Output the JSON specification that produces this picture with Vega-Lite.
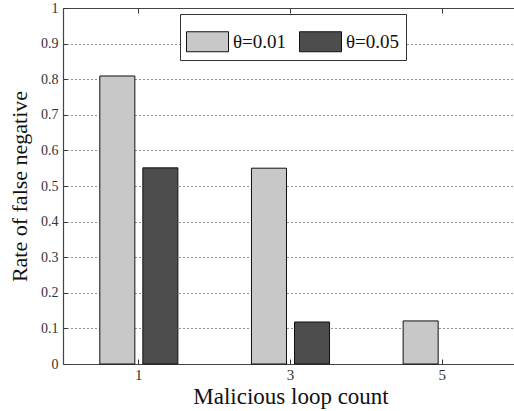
{
  "$schema": "https://vega.github.io/schema/vega-lite/v6.json",
  "width": 455,
  "height": 356,
  "autosize": {"type": "none"},
  "padding": {"left": 63, "top": 8, "right": 0, "bottom": 47},
  "background": "white",
  "config": {
    "view": {"stroke": null},
    "font": "Liberation Serif",
    "axis": {"labelFont": "Liberation Serif", "titleFont": "Liberation Serif", "labelColor": "#333333", "titleColor": "#111111", "titleFontWeight": "normal", "domainColor": "#444444", "domainWidth": 1.2}
  },
  "data": {
    "values": [
      {"count": "1", "theta": "θ=0.01", "rate": 0.809},
      {"count": "1", "theta": "θ=0.05", "rate": 0.551},
      {"count": "3", "theta": "θ=0.01", "rate": 0.55},
      {"count": "3", "theta": "θ=0.05", "rate": 0.118},
      {"count": "5", "theta": "θ=0.01", "rate": 0.121}
    ]
  },
  "layer": [
    {
      "mark": {"type": "bar", "stroke": "#111111", "strokeWidth": 1},
      "encoding": {
        "x": {
          "field": "count", "type": "ordinal",
          "scale": {"domain": ["1", "3", "5"], "paddingInner": 0, "paddingOuter": 0},
          "axis": {
            "orient": "bottom",
            "title": "Malicious loop count",
            "titleFontSize": 23,
            "titlePadding": 3,
            "labelAngle": 0,
            "labelFontSize": 15,
            "labelPadding": 8,
            "bandPosition": 0.5,
            "tickSize": -5,
            "tickColor": "#333333",
            "domain": true,
            "grid": false
          }
        },
        "xOffset": {
          "field": "theta", "type": "nominal",
          "scale": {"domain": ["θ=0.01", "θ=0.05"], "paddingInner": 0.186, "paddingOuter": 0.855}
        },
        "y": {
          "field": "rate", "type": "quantitative",
          "scale": {"domain": [0, 1], "nice": false},
          "axis": {
            "title": "Rate of false negative",
            "titleFontSize": 22,
            "titlePadding": 9,
            "labelFontSize": 14,
            "labelPadding": 9,
            "values": [0, 0.1, 0.2, 0.3, 0.4, 0.5, 0.6, 0.7, 0.8, 0.9, 1],
            "format": ".1~f",
            "ticks": true,
            "tickSize": -4,
            "tickColor": "#333333",
            "domain": true,
            "grid": true,
            "gridColor": "#222222",
            "gridDash": [1, 3],
            "gridWidth": 1
          }
        },
        "color": {
          "field": "theta", "type": "nominal",
          "scale": {"domain": ["θ=0.01", "θ=0.05"], "range": ["#c8c8c8", "#4d4d4d"]},
          "legend": {
            "title": null,
            "orient": "none",
            "direction": "horizontal",
            "legendX": 117,
            "legendY": 6,
            "padding": 6,
            "strokeColor": "#333333",
            "fillColor": "white",
            "symbolType": "M-1,-0.476H1V0.476H-1Z",
            "symbolSize": 1764,
            "symbolStrokeColor": "#111111",
            "symbolStrokeWidth": 1,
            "symbolOpacity": 1,
            "labelFont": "Liberation Serif",
            "labelFontSize": 19,
            "labelColor": "#111111",
            "labelOffset": 4,
            "columnPadding": 10
          }
        }
      }
    },
    {
      "mark": {"type": "bar", "opacity": 0},
      "encoding": {
        "x": {
          "field": "count", "type": "ordinal",
          "axis": {
            "orient": "top",
            "title": null,
            "labels": false,
            "bandPosition": 0.5,
            "tickSize": -5,
            "tickColor": "#333333",
            "domain": true,
            "grid": false
          }
        }
      }
    }
  ],
  "resolve": {"axis": {"x": "independent"}}
}
